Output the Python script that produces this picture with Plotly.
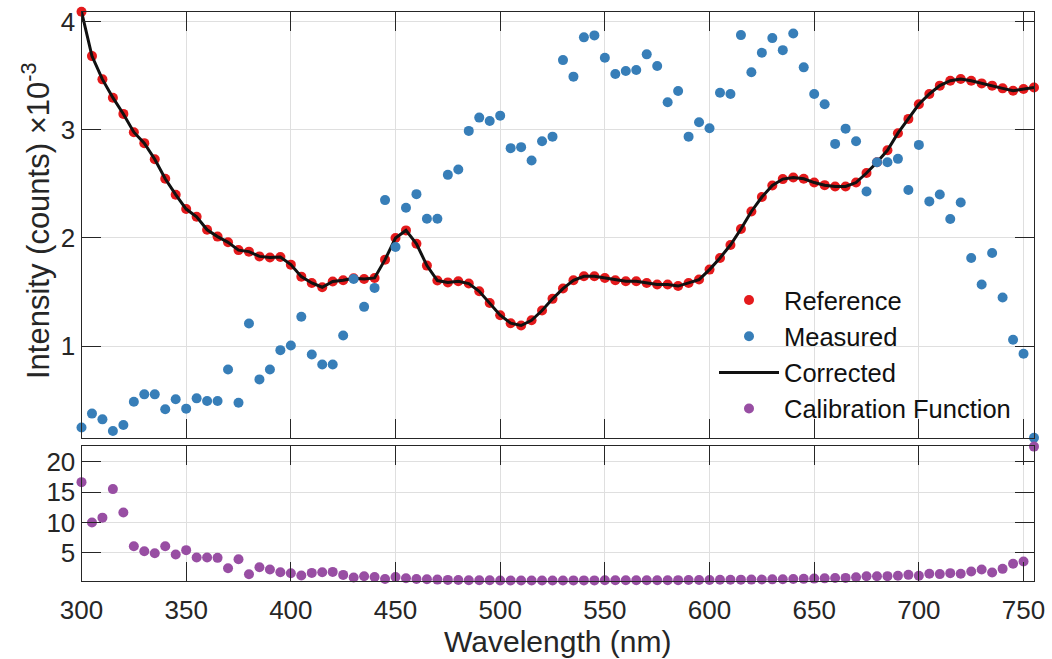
import plotly.graph_objects as go

# Wavelength grid (nm)
wavelength_nm = [
    300, 305, 310, 315, 320, 325, 330, 335, 340, 345, 350, 355, 360, 365, 370, 375,
    380, 385, 390, 395, 400, 405, 410, 415, 420, 425, 430, 435, 440, 445, 450, 455,
    460, 465, 470, 475, 480, 485, 490, 495, 500, 505, 510, 515, 520, 525, 530, 535,
    540, 545, 550, 555, 560, 565, 570, 575, 580, 585, 590, 595, 600, 605, 610, 615,
    620, 625, 630, 635, 640, 645, 650, 655, 660, 665, 670, 675, 680, 685, 690, 695,
    700, 705, 710, 715, 720, 725, 730, 735, 740, 745, 750, 755,
]

# Intensities in units of 1e-3 counts
reference = [
    4.09, 3.68, 3.465, 3.296, 3.146, 2.977, 2.876, 2.728, 2.547, 2.40, 2.267, 2.196,
    2.076, 2.013, 1.96, 1.888, 1.874, 1.83, 1.82, 1.825, 1.754, 1.643, 1.585, 1.545,
    1.598, 1.609, 1.628, 1.622, 1.631, 1.80, 2.00, 2.07, 1.947, 1.745, 1.607, 1.59,
    1.60, 1.579, 1.508, 1.40, 1.287, 1.213, 1.192, 1.24, 1.33, 1.438, 1.533, 1.609,
    1.646, 1.646, 1.631, 1.609, 1.60, 1.60, 1.585, 1.57, 1.57, 1.556, 1.585, 1.616,
    1.708, 1.816, 1.935, 2.083, 2.245, 2.378, 2.485, 2.544, 2.559, 2.547, 2.512, 2.488,
    2.476, 2.476, 2.512, 2.60, 2.70, 2.81, 2.968, 3.10, 3.235, 3.33, 3.407, 3.453,
    3.468, 3.453, 3.428, 3.407, 3.382, 3.36, 3.376, 3.39,
]

measured = [
    0.249, 0.378, 0.325, 0.218, 0.273, 0.488, 0.556, 0.556, 0.418, 0.51, 0.424, 0.519,
    0.494, 0.494, 0.786, 0.479, 1.21, 0.694, 0.786, 0.964, 1.007, 1.272, 0.924, 0.832,
    0.832, 1.10, 1.622, 1.364, 1.539, 2.35, 1.917, 2.279, 2.405, 2.178, 2.178, 2.583,
    2.632, 2.989, 3.112, 3.081, 3.13, 2.83, 2.839, 2.715, 2.894, 2.936, 3.643, 3.49,
    3.853, 3.871, 3.665, 3.514, 3.542, 3.551, 3.696, 3.588, 3.253, 3.358, 2.936, 3.069,
    3.014, 3.342, 3.33, 3.874, 3.53, 3.711, 3.846, 3.735, 3.889, 3.576, 3.33, 3.235,
    2.869, 3.01, 2.894, 2.43, 2.70, 2.70, 2.731, 2.443, 2.86, 2.338, 2.402, 2.175,
    2.328, 1.816, 1.57, 1.862, 1.45, 1.06, 0.931, 0.155,
]

corrected = [
    4.09, 3.68, 3.465, 3.296, 3.146, 2.977, 2.876, 2.728, 2.547, 2.40, 2.267, 2.196,
    2.076, 2.013, 1.96, 1.888, 1.874, 1.83, 1.82, 1.825, 1.754, 1.643, 1.585, 1.545,
    1.598, 1.609, 1.628, 1.622, 1.631, 1.80, 2.00, 2.07, 1.947, 1.745, 1.607, 1.59,
    1.60, 1.579, 1.508, 1.40, 1.287, 1.213, 1.192, 1.24, 1.33, 1.438, 1.533, 1.609,
    1.646, 1.646, 1.631, 1.609, 1.60, 1.60, 1.585, 1.57, 1.57, 1.556, 1.585, 1.616,
    1.708, 1.816, 1.935, 2.083, 2.245, 2.378, 2.485, 2.544, 2.559, 2.547, 2.512, 2.488,
    2.476, 2.476, 2.512, 2.60, 2.70, 2.81, 2.968, 3.10, 3.235, 3.33, 3.407, 3.453,
    3.468, 3.453, 3.428, 3.407, 3.382, 3.36, 3.376, 3.39,
]

calibration = [
    16.65, 10.0, 10.8, 15.5, 11.65, 6.1, 5.28, 4.95, 6.1, 4.73, 5.45, 4.24,
    4.24, 4.18, 2.48, 3.96, 1.49, 2.64, 2.26, 1.82, 1.65, 1.27, 1.70, 1.82,
    1.87, 1.37, 0.94, 1.16, 1.04, 0.71, 1.04, 0.83, 0.71, 0.66, 0.60, 0.55,
    0.53, 0.50, 0.50, 0.48, 0.46, 0.45, 0.45, 0.46, 0.46, 0.46, 0.46, 0.47,
    0.47, 0.47, 0.48, 0.48, 0.48, 0.49, 0.49, 0.50, 0.50, 0.51, 0.52, 0.53,
    0.54, 0.56, 0.57, 0.59, 0.60, 0.62, 0.64, 0.66, 0.69, 0.72, 0.76, 0.80,
    0.86, 0.88, 0.98, 1.15, 1.15, 1.17, 1.22, 1.38, 1.22, 1.55, 1.50, 1.66,
    1.55, 1.93, 2.26, 1.77, 2.37, 3.20, 3.58, 22.5,
]

x_ticks = [300, 350, 400, 450, 500, 550, 600, 650, 700, 750]
top_y_ticks = [1, 2, 3, 4]
bottom_y_ticks = [5, 10, 15, 20]

RED = "#e41a1c"
BLUE = "#377eb8"
PURPLE = "#984ea3"
INK = "#262626"
FONT = "Liberation Sans, Arial, Helvetica, sans-serif"

W, H = 1052, 659
x_dom = [81.5 / W, 1034 / W]
top_dom = [1 - 438.3 / H, 1 - 11.7 / H]
bot_dom = [1 - 580.5 / H, 1 - 446 / H]

fig = go.Figure()

fig.add_trace(go.Scatter(
    x=wavelength_nm, y=reference, mode="markers", name="Reference",
    marker=dict(color=RED, size=10, line=dict(width=0)),
    xaxis="x", yaxis="y", legendrank=1, cliponaxis=False,
))
fig.add_trace(go.Scatter(
    x=wavelength_nm, y=corrected, mode="lines", name="Corrected",
    line=dict(color="#111111", width=3),
    xaxis="x", yaxis="y", legendrank=3, cliponaxis=False,
))
fig.add_trace(go.Scatter(
    x=wavelength_nm, y=measured, mode="markers", name="Measured",
    marker=dict(color=BLUE, size=10, line=dict(width=0)),
    xaxis="x", yaxis="y", legendrank=2, cliponaxis=False,
))
fig.add_trace(go.Scatter(
    x=wavelength_nm, y=calibration, mode="markers", name="Calibration Function",
    marker=dict(color=PURPLE, size=10, line=dict(width=0)),
    xaxis="x2", yaxis="y2", legendrank=4, cliponaxis=False,
))

axis_style = dict(
    showline=True, linecolor=INK, linewidth=1, mirror="ticks",
    ticks="inside", ticklen=19, tickwidth=1, tickcolor=INK,
    showgrid=True, gridcolor="#dfdfdf", gridwidth=1, zeroline=False,
    tickfont=dict(family=FONT, size=26, color=INK), automargin=False,
)

fig.update_layout(
    width=W, height=H,
    margin=dict(l=0, r=0, t=0, b=0),
    paper_bgcolor="white", plot_bgcolor="white",
    font=dict(family=FONT, color=INK),
    showlegend=True,
    legend=dict(
        x=714 / W, y=1 - 277 / H, xanchor="left", yanchor="top",
        bgcolor="rgba(0,0,0,0)", borderwidth=0, itemwidth=60,
        font=dict(family=FONT, size=25.5, color="#111111"),
        tracegroupgap=0,
    ),
    xaxis=dict(domain=x_dom, anchor="y", range=[300, 755], tickvals=x_ticks,
               showticklabels=False, **axis_style),
    yaxis=dict(domain=top_dom, anchor="x", range=[0.15, 4.09], tickvals=top_y_ticks,
               **axis_style),
    xaxis2=dict(domain=x_dom, anchor="y2", range=[300, 755], tickvals=x_ticks,
                matches="x", ticklabelstandoff=6,
                title=dict(text="Wavelength (nm)", font=dict(family=FONT, size=30, color=INK),
                           standoff=7),
                **axis_style),
    yaxis2=dict(domain=bot_dom, anchor="x2", range=[0.45, 22.6], tickvals=bottom_y_ticks,
                **axis_style),
    annotations=[dict(
        text="Intensity (counts) ×10<sup>-3</sup>",
        xref="paper", yref="paper", x=36 / W, y=1 - 221 / H,
        xanchor="center", yanchor="middle", textangle=-90, showarrow=False,
        font=dict(family=FONT, size=31, color=INK),
    )],
)

fig.write_html("out.html")
